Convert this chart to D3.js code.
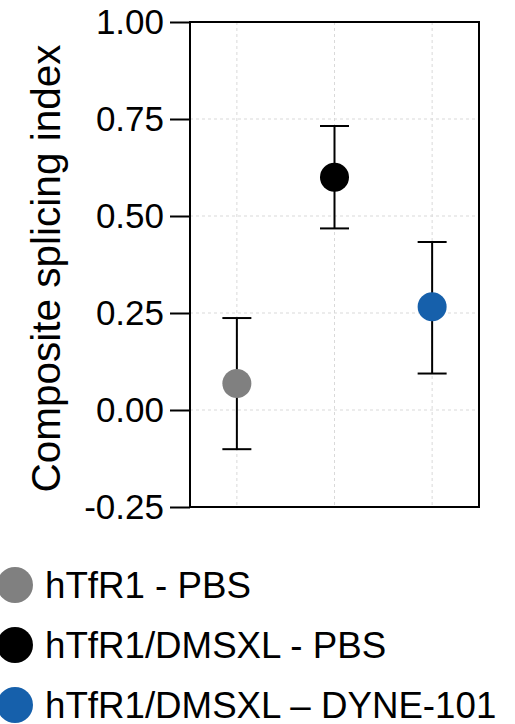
<!DOCTYPE html>
<html>
<head>
<meta charset="utf-8">
<script src="https://cdn.jsdelivr.net/npm/d3@7"></script>
<style>
  body { margin: 0; background: #fff; }
  svg { display: block; font-family: "Liberation Sans", Arial, sans-serif; }
</style>
</head>
<body>
<div id="chart"></div>
<script>
var groups = ["hTfR1 - PBS", "hTfR1/DMSXL - PBS", "hTfR1/DMSXL \u2013 DYNE-101"];
var means = [0.068, 0.600, 0.266];
var upper = [0.237, 0.732, 0.433];
var lower = [-0.101, 0.468, 0.094];
var yTicks = [-0.25, 0, 0.25, 0.5, 0.75, 1.0];
var colors = ["#808080", "#000000", "#1660ab"];

var svgWidth = 515;
var svgHeight = 724;

var margin = { top: 22, right: 36, bottom: 217, left: 190 };
var width = svgWidth - margin.left - margin.right;
var height = svgHeight - margin.top - margin.bottom;

var svg = d3.select("#chart").append("svg").attr("width", svgWidth).attr("height", svgHeight);
var chartGroup = svg.append("g").attr("transform", `translate(${margin.left}, ${margin.top})`);

var xScale = d3.scalePoint().domain(groups).range([0, width]).padding(0.48);
var yScale = d3.scaleLinear().domain([-0.25, 1.0]).range([height, 0]);

// grid
chartGroup.append("g").selectAll("line").data(yTicks).enter().append("line")
  .attr("x1", 0).attr("x2", width)
  .attr("y1", d => yScale(d)).attr("y2", d => yScale(d))
  .attr("stroke", "#d9d9d9").attr("stroke-width", 1).attr("stroke-dasharray", "3,3");
chartGroup.append("g").selectAll("line").data(groups).enter().append("line")
  .attr("x1", d => xScale(d)).attr("x2", d => xScale(d))
  .attr("y1", 0).attr("y2", height)
  .attr("stroke", "#d9d9d9").attr("stroke-width", 1).attr("stroke-dasharray", "3,3");

// frame
chartGroup.append("rect").attr("width", width).attr("height", height)
  .attr("fill", "none").attr("stroke", "#000").attr("stroke-width", 2);

var fmt = d3.format(".2f");
var leftAxis = d3.axisLeft(yScale).tickValues(yTicks)
  .tickFormat(d => fmt(d).replace("\u2212", "-")).tickSize(20).tickPadding(6);
var yAxis = chartGroup.append("g").call(leftAxis);
yAxis.select(".domain").remove();
yAxis.selectAll("line").attr("stroke", "#000").attr("stroke-width", 2);
yAxis.selectAll("text").attr("fill", "#000").style("font-size", "35px")
  .style("font-family", "'Liberation Sans', Arial, sans-serif");

// error bars
var idx = d3.range(groups.length);
var bars = chartGroup.append("g").selectAll("g").data(idx).enter().append("g");
bars.append("line")
  .attr("x1", i => xScale(groups[i])).attr("x2", i => xScale(groups[i]))
  .attr("y1", i => yScale(upper[i])).attr("y2", i => yScale(lower[i]))
  .attr("stroke", "#000").attr("stroke-width", 2);
bars.append("line")
  .attr("x1", i => xScale(groups[i]) - 14.5).attr("x2", i => xScale(groups[i]) + 14.5)
  .attr("y1", i => yScale(upper[i])).attr("y2", i => yScale(upper[i]))
  .attr("stroke", "#000").attr("stroke-width", 2);
bars.append("line")
  .attr("x1", i => xScale(groups[i]) - 14.5).attr("x2", i => xScale(groups[i]) + 14.5)
  .attr("y1", i => yScale(lower[i])).attr("y2", i => yScale(lower[i]))
  .attr("stroke", "#000").attr("stroke-width", 2);
bars.append("circle")
  .attr("cx", i => xScale(groups[i])).attr("cy", i => yScale(means[i]))
  .attr("r", 14.5).attr("fill", i => colors[i]);

// y label
svg.append("text").attr("transform", `translate(60, ${margin.top + height / 2 + 4}) rotate(-90)`)
  .attr("text-anchor", "middle").style("font-size", "40.5px").attr("fill", "#000")
  .text("Composite splicing index");

// legend
var legend = svg.append("g").selectAll("g").data(idx).enter().append("g")
  .attr("transform", i => `translate(0, ${585 + i * 60})`);
legend.append("circle").attr("cx", 15).attr("cy", 0).attr("r", 18).attr("fill", i => colors[i]);
legend.append("text").attr("x", 45).attr("y", 12.5).style("font-size", "36.7px").attr("fill", "#000")
  .text(i => groups[i]);
</script>
</body>
</html>
